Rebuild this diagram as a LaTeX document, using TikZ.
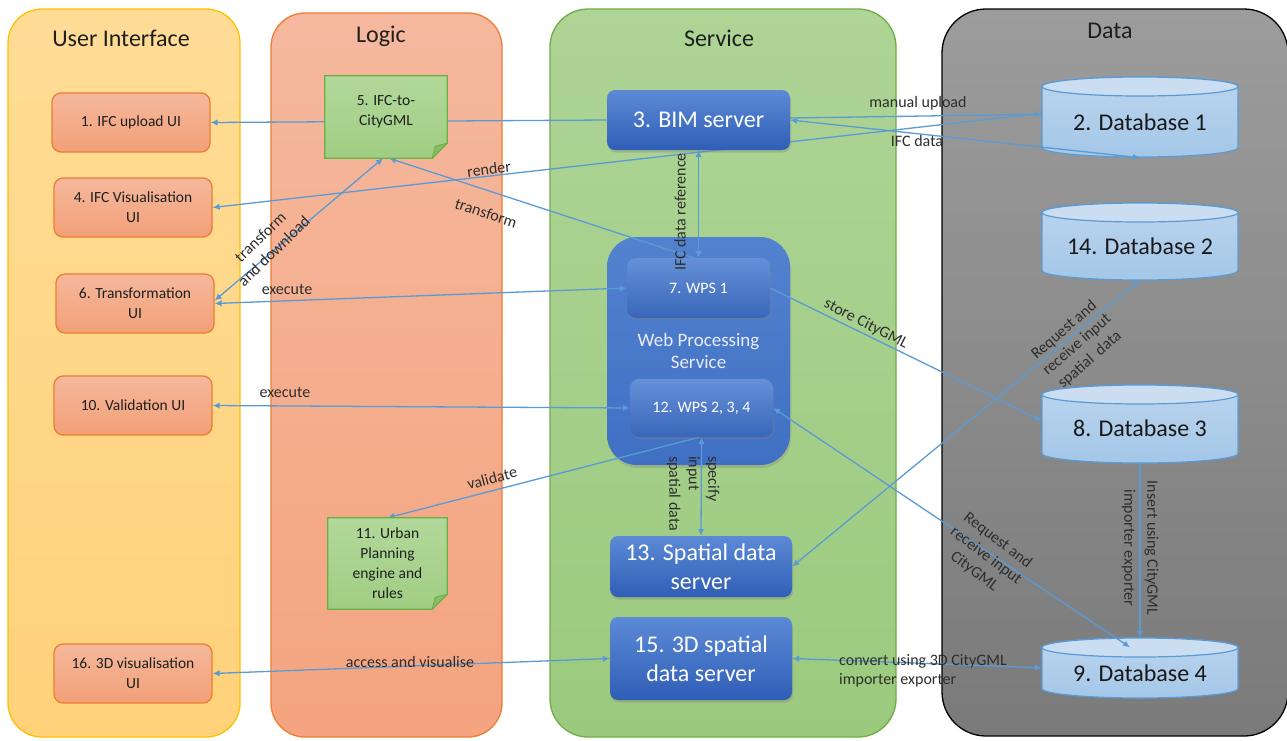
\documentclass[tikz,border=0pt]{standalone}
\usepackage{fontspec}
\setmainfont{Carlito}
\usetikzlibrary{arrows.meta,calc,shadows}
\definecolor{uiTop}{HTML}{FFDC96}
\definecolor{uiBot}{HTML}{FFD27A}
\definecolor{uiBorder}{HTML}{FFC000}
\definecolor{lgTop}{HTML}{F5B89E}
\definecolor{lgBot}{HTML}{F4A47F}
\definecolor{lgBorder}{HTML}{ED7D31}
\definecolor{svTop}{HTML}{AED496}
\definecolor{svBot}{HTML}{9BCA7E}
\definecolor{svBorder}{HTML}{70AD47}
\definecolor{dtTop}{HTML}{9C9C9C}
\definecolor{dtBot}{HTML}{7A7A7A}
\definecolor{boxTop}{HTML}{F5B89C}
\definecolor{boxBot}{HTML}{F2A077}
\definecolor{boxBorder}{HTML}{ED7D31}
\definecolor{noteTop}{HTML}{B2D89A}
\definecolor{noteBot}{HTML}{A0CD83}
\definecolor{noteBorder}{HTML}{6BAF45}
\definecolor{noteFold}{HTML}{86BC66}
\definecolor{blueTop}{HTML}{5D8AD6}
\definecolor{blueBot}{HTML}{2F5EB6}
\definecolor{wpsTop}{HTML}{5282CF}
\definecolor{wpsBot}{HTML}{4070C3}
\definecolor{dbEll}{HTML}{CADDF1}
\definecolor{dbBody}{HTML}{A4C7E8}
\definecolor{dbLine}{HTML}{5B9BD5}
\definecolor{arrowC}{HTML}{5B9BD5}
\definecolor{lblC}{HTML}{2E2E2E}

\pgfdeclarelayer{lanes}
\pgfdeclarelayer{conn}
\pgfdeclarelayer{notefill}
\pgfsetlayers{lanes,conn,notefill,main}

\newcommand{\dbshape}[3]{%
  \path[draw=dbLine, line width=1.2pt, top color=dbEll!60!dbBody, bottom color=dbBody]
    (#1-98,#2+9.5) -- (#1-98,#3-9.5)
    arc[start angle=180,end angle=360,x radius=98pt,y radius=9.5pt]
    -- (#1+98,#2+9.5)
    arc[start angle=0,end angle=180,x radius=98pt,y radius=9.5pt] -- cycle;
  \filldraw[draw=dbLine, line width=1.2pt, fill=dbEll]
    (#1,#2+9.5) ellipse[x radius=98pt, y radius=9.5pt];
}
\newcommand{\notepoly}[1]{%
  \path[top color=noteTop, bottom color=noteBot, draw=noteBorder, line width=1.3pt]
    (#1.north west) -- (#1.north east) -- ($(#1.south east)+(0,-15)$)
    -- ($(#1.south east)+(-15,0)$) -- (#1.south west) -- cycle;
  \filldraw[fill=noteFold, draw=noteBorder, line width=0.8pt, line join=round]
    ($(#1.south east)+(0,-15)$) -- ($(#1.south east)+(-15,0)$)
    -- ($(#1.south east)+(-12,-12)$) -- cycle;
}

\tikzset{
  lane/.style={rectangle, line width=1.3pt},
  lanetitle/.style={font=\fontsize{24}{29}\selectfont, text=black!88, inner sep=0pt},
  uibox/.style={rectangle, rounded corners=9pt, draw=boxBorder, line width=1.3pt,
    top color=boxTop, bottom color=boxBot, minimum width=158pt, minimum height=59pt,
    align=center, inner sep=2pt, text=black!88, font=\fontsize{15.5}{20}\selectfont},
  bluebox/.style={rectangle, rounded corners=8pt, top color=blueTop, bottom color=blueBot,
    text=white, align=center, inner sep=2pt, font=\fontsize{24}{29}\selectfont,
    drop shadow={shadow xshift=1pt, shadow yshift=-2.5pt, opacity=0.35}},
  inbox/.style={rectangle, rounded corners=9pt, top color=blueTop!95!white, bottom color=blueBot!95!white,
    text=white, align=center, inner sep=2pt, font=\fontsize{16}{20}\selectfont,
    drop shadow={shadow xshift=1pt, shadow yshift=-2pt, opacity=0.35}},
  wpsbox/.style={rectangle, rounded corners=30pt, top color=wpsTop, bottom color=wpsBot,
    text=white!92!blue, align=center, inner sep=0pt, font=\fontsize{19}{22}\selectfont,
    drop shadow={shadow xshift=1pt, shadow yshift=-3pt, opacity=0.3}},
  notebox/.style={rectangle, align=center, inner sep=0pt, text=black!88,
    font=\fontsize{15.5}{20}\selectfont},
  dbtext/.style={rectangle, inner sep=0pt, minimum width=196pt, text=black!90,
    font=\fontsize{24}{29}\selectfont},
  conn/.style={draw=arrowC, line width=1.3pt},
  lbl/.style={font=\fontsize{16}{19.5}\selectfont, text=lblC, align=center, inner sep=1pt},
  >={Latex[length=7pt,width=6.5pt]}
}

\begin{document}
\begin{tikzpicture}[x=1pt,y=-1pt]
\useasboundingbox (0,0) rectangle (1287,740);

\begin{pgfonlayer}{lanes}
  \fill[white] (0,0) rectangle (1287,740);
  \node[lane, rounded corners=34pt, draw=uiBorder, top color=uiTop, bottom color=uiBot,
        minimum width=232pt, minimum height=728pt] (laneUI) at (124,373) {};
  \node[lane, rounded corners=34pt, draw=lgBorder, top color=lgTop, bottom color=lgBot,
        minimum width=231pt, minimum height=724pt] (laneLogic) at (386.5,375) {};
  \node[lane, rounded corners=38pt, draw=svBorder, top color=svTop, bottom color=svBot,
        minimum width=346pt, minimum height=728pt] (laneService) at (723,373) {};
  \node[lane, rounded corners=44pt, draw=black, top color=dtTop, bottom color=dtBot,
        minimum width=346pt, minimum height=727pt] (laneData) at (1115,372.5) {};
  \node[lanetitle] (tUI) at (121,38) {User Interface};
  \node[lanetitle] (tLogic) at (381,36) {Logic};
  \node[lanetitle] (tService) at (719,38) {Service};
  \node[lanetitle] (tData) at (1110,31) {Data};
  \dbshape{1140}{77}{157}
  \dbshape{1140}{203}{280}
  \dbshape{1140}{385}{463}
  \dbshape{1140}{638}{698}
  \node[wpsbox, minimum width=183pt, minimum height=228pt] (wps) at (698.5,351) {Web Processing\\Service};
\end{pgfonlayer}

% User interface
\node[uibox] (ui1) at (131,122.5) {1. IFC upload UI};
\node[uibox] (ui4) at (133,207.5) {4. IFC Visualisation\\UI};
\node[uibox] (ui6) at (135,303.5) {6. Transformation\\UI};
\node[uibox] (ui10) at (133,405.5) {10. Validation UI};
\node[uibox] (ui16) at (133,673.5) {16. 3D visualisation\\UI};

% Logic notes
\node[notebox, minimum width=122pt, minimum height=82pt] (n5) at (386,117)
  {\raisebox{0pt}[\height][\dimexpr\depth+12pt\relax]{\begin{tabular}{@{}c@{}}5. IFC-to-\\CityGML\end{tabular}}};
\node[notebox, minimum width=119pt, minimum height=91pt] (n11) at (387.5,563.5)
  {11. Urban\\Planning\\engine and\\rules};
\begin{pgfonlayer}{notefill}
  \notepoly{n5}
  \notepoly{n11}
\end{pgfonlayer}

% Service
\node[bluebox, minimum width=183pt, minimum height=60pt] (bim) at (698.5,120) {3. BIM server};
\node[inbox, minimum width=143pt, minimum height=60pt] (wps1) at (698.5,288) {7. WPS 1};
\node[inbox, minimum width=143pt, minimum height=58pt] (wps12) at (701.5,408) {12. WPS 2, 3, 4};
\node[bluebox, minimum width=182pt, minimum height=61pt] (sds13) at (701,566.5) {13. Spatial data\\server};
\node[bluebox, minimum width=182pt, minimum height=83pt] (sds15) at (701,658.5) {15. 3D spatial\\data server};

% Data
\node[dbtext, minimum height=70.5pt] (db1) at (1140,122.25) {2. Database 1};
\node[dbtext, minimum height=67.5pt] (db2) at (1140,246.25) {14. Database 2};
\node[dbtext, minimum height=68.5pt] (db3) at (1140,428.75) {8. Database 3};
\node[dbtext, minimum height=50.5pt] (db4) at (1140,672.75) {9. Database 4};

% Connectors
\begin{pgfonlayer}{conn}
  \draw[conn,->] (bim.west) -- (ui1.east);
  \draw[conn,->] ([yshift=2pt]bim.east) -- ([yshift=8pt]db1.west);
  \draw[conn,<->] (bim.east) -- (db1.south);
  \draw[conn,->] ([yshift=9pt]db1.west) -- (ui4.east);
  \draw[conn,<->] ([yshift=3pt]ui6.east) -- ([xshift=-3pt]n5.south);
  \draw[conn,->] ([xshift=-5pt]wps1.north) -- ([xshift=3pt]n5.south);
  \draw[conn,<->] (ui6.east) -- (wps1.west);
  \draw[conn,<->] (bim.south) -- (wps1.north);
  \draw[conn,->] (wps1.east) -- ([yshift=8pt]db3.west);
  \draw[conn,<->] (ui10.east) -- (wps12.west);
  \draw[conn,<->] (sds13.east) -- (db2.south);
  \draw[conn,<->] (wps12.east) -- ([xshift=-10pt]db4.north);
  \draw[conn,->] (db3.south) -- ([yshift=9.5pt]db4.north);
  \draw[conn,<->] (wps12.south) -- (sds13.north);
  \draw[conn,->] ([xshift=-2pt]wps12.south) -- (n11.north);
  \draw[conn,<->] (ui16.east) -- (sds15.west);
  \draw[conn,<->] (sds15.east) -- ([yshift=5pt]db4.west);
\end{pgfonlayer}

% Connector labels
\node[lbl] (lManual) at (918,103) {manual upload};
\node[lbl] (lIFCdata) at (917,141) {IFC data};
\node[lbl, rotate=7] (lRender) at (489,169) {render};
\node[lbl, rotate=-18] (lTransform) at (486,213) {transform};
\node[lbl, rotate=44] (lTD) at (267,244) {transform\\and download};
\node[lbl] (lExec1) at (287,289) {execute};
\node[lbl, rotate=90] (lRef) at (680,212) {IFC data reference};
\node[lbl, rotate=-27] (lStore) at (866,324) {store CityGML};
\node[lbl] (lExec2) at (285,392) {execute};
\node[lbl, rotate=15] (lValidate) at (492,478) {validate};
\node[lbl, rotate=-90, anchor=west, align=left] (lSpecify) at (693,455) {specify\\input\\spatial data};
\node[lbl, rotate=41] (lReqSpatial) at (1077,345) {Request and\\receive input\\spatial\ \ data};
\node[lbl, rotate=-37] (lReqCity) at (986,556) {Request and\\receive input\\CityGML};
\node[lbl, rotate=-90, font=\fontsize{16}{23}\selectfont] (lInsert) at (1140,548) {Insert using CityGML\\importer exporter};
\node[lbl] (lAccess) at (410,662) {access and visualise};
\node[lbl, align=left, anchor=north west] (lConvert) at (838,653) {convert using 3D CityGML\\importer exporter};
\end{tikzpicture}
\end{document}
